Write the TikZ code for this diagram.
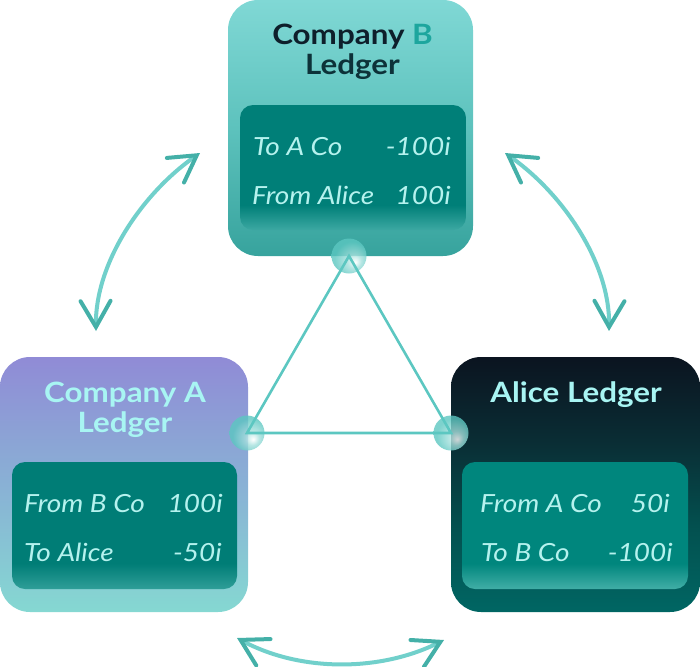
\documentclass[tikz,border=0pt]{standalone}
\usepackage{fontspec}
\setmainfont{Lato}
\newfontfamily\titlefont{Lato}[FakeStretch=1.12]
\newfontfamily\rowfont{Lato}[FakeStretch=1.12]
\usetikzlibrary{arrows.meta}
\definecolor{bTop}{HTML}{80D8D5}
\definecolor{bMid}{HTML}{5DC2BD}
\definecolor{bBot}{HTML}{37A39D}
\definecolor{aTop}{HTML}{908BD6}
\definecolor{aMid}{HTML}{89B1D5}
\definecolor{aBot}{HTML}{85D8D2}
\definecolor{cTop}{HTML}{0B1420}
\definecolor{cMid}{HTML}{0A2E35}
\definecolor{cMid2}{HTML}{03504F}
\definecolor{cBot}{HTML}{006663}
\definecolor{inA}{HTML}{007D76}
\definecolor{inAb}{HTML}{2F9E98}
\definecolor{inB}{HTML}{007F78}
\definecolor{inBb}{HTML}{3CA8A2}
\definecolor{inC}{HTML}{00867D}
\definecolor{inCb}{HTML}{41AEA6}
\definecolor{rowc}{HTML}{B5F2EE}
\definecolor{titleLight}{HTML}{A8F5F3}
\definecolor{titleDark}{HTML}{0E1F2B}
\definecolor{titleDark2}{HTML}{0D3239}
\definecolor{titleTeal}{HTML}{1DA69E}
\definecolor{knobc}{HTML}{5CC7C1}
\definecolor{triline}{HTML}{5CC7C1}
\definecolor{arrline}{HTML}{71D0CB}
\definecolor{arrhead}{HTML}{44B0A8}
\pgfdeclareverticalshading{shB}{100bp}{color(0bp)=(bBot); color(25bp)=(bBot); color(50bp)=(bMid); color(75bp)=(bTop); color(100bp)=(bTop)}
\pgfdeclareverticalshading{shA}{100bp}{color(0bp)=(aBot); color(25bp)=(aBot); color(50bp)=(aMid); color(75bp)=(aTop); color(100bp)=(aTop)}
\pgfdeclareverticalshading{shC}{100bp}{color(0bp)=(cBot); color(25bp)=(cBot); color(42bp)=(cMid2); color(58bp)=(cMid); color(75bp)=(cTop); color(100bp)=(cTop)}
\pgfdeclareverticalshading{shInA}{100bp}{color(0bp)=(inAb); color(25bp)=(inAb); color(35bp)=(inA); color(75bp)=(inA); color(100bp)=(inA)}
\pgfdeclareverticalshading{shInB}{100bp}{color(0bp)=(inBb); color(25bp)=(inBb); color(35bp)=(inB); color(75bp)=(inB); color(100bp)=(inB)}
\pgfdeclareverticalshading{shInC}{100bp}{color(0bp)=(inCb); color(25bp)=(inCb); color(35bp)=(inC); color(75bp)=(inC); color(100bp)=(inC)}
\pgfdeclareradialshading{knobsh}{\pgfpoint{9bp}{-9bp}}{color(0bp)=(white); color(10bp)=(knobc!55!white); color(25bp)=(knobc); color(50bp)=(knobc)}
\begin{document}
\begin{tikzpicture}[x=1pt,y=-1pt,
  outerbox/.style={rectangle, rounded corners=30pt, inner sep=0pt, draw=none, minimum width=#1},
  innerbox/.style={rectangle, rounded corners=13pt, inner sep=0pt, draw=none, minimum width=#1},
  titletxt/.style={inner sep=0pt, anchor=base, font=\titlefont\bfseries\fontsize{28}{30}\selectfont},
  rowtxt/.style={inner sep=0pt, text=rowc, font=\rowfont\itshape\fontsize{25}{28}\selectfont},
  knob/.style={circle, minimum size=35pt, inner sep=0pt, shading=knobsh, opacity=0.8},
  tri/.style={draw=triline, line width=2.6pt},
  arr/.style={draw=arrline, line width=4pt, line cap=round,
    {Straight Barb[length=26pt, width=30pt, color=arrhead, line cap=round]}-{Straight Barb[length=26pt, width=30pt, color=arrhead, line cap=round]}}
]
\useasboundingbox (0,0) rectangle (700,666);

% boxes
\node[outerbox=245pt, minimum height=256pt, shading=shB] (boxB) at (350.5,128) {};
\node[outerbox=248pt, minimum height=255pt, shading=shA] (boxA) at (124,484.5) {};
\node[outerbox=249pt, minimum height=255pt, shading=shC] (boxC) at (575.5,484.5) {};

\node[innerbox=226pt, minimum height=125pt, shading=shInB] (inB) at (353,167.5) {};
\node[innerbox=225pt, minimum height=127pt, shading=shInA] (inA) at (124.5,525.5) {};
\node[innerbox=226pt, minimum height=127pt, shading=shInC] (inC) at (575,525.5) {};

% titles
\node[titletxt] (tB1) at (352.5,45) {\textcolor{titleDark}{Company} \textcolor{titleTeal}{B}};
\node[titletxt, text=titleDark2] (tB2) at (352.5,75) {Ledger};
\node[titletxt, text=titleLight] (tA1) at (125,402) {Company A};
\node[titletxt, text=titleLight] (tA2) at (125,432) {Ledger};
\node[titletxt, text=titleLight] (tC1) at (576,402) {Alice Ledger};

% rows
\node[rowtxt, anchor=base west] (rB1l) at (253,155) {To A Co};
\node[rowtxt, anchor=base east] (rB1r) at (451,155) {-100i};
\node[rowtxt, anchor=base west] (rB2l) at (252,204) {From Alice};
\node[rowtxt, anchor=base east] (rB2r) at (451,204) {100i};

\node[rowtxt, anchor=base west] (rA1l) at (24,512) {From B Co};
\node[rowtxt, anchor=base east] (rA1r) at (223,512) {100i};
\node[rowtxt, anchor=base west] (rA2l) at (24,561) {To Alice};
\node[rowtxt, anchor=base east] (rA2r) at (222,561) {-50i};

\node[rowtxt, anchor=base west] (rC1l) at (480,512) {From A Co};
\node[rowtxt, anchor=base east] (rC1r) at (670,512) {50i};
\node[rowtxt, anchor=base west] (rC2l) at (481,561) {To B Co};
\node[rowtxt, anchor=base east] (rC2r) at (673,561) {-100i};

% knobs
\node[knob] (kB) at (349,256) {};
\node[knob] (kA) at (247,433) {};
\node[knob] (kC) at (451,433) {};

% triangle
\draw[tri, line join=miter] (kB.center) -- (kA.center) -- (kC.center) -- cycle;

% arrows
\coordinate (a1) at (96,331);
\coordinate (a2) at (200,153);
\coordinate (b1) at (505,153);
\coordinate (b2) at (609,331);
\coordinate (c1) at (237,638);
\coordinate (c2) at (444,640);
\draw[arr] (a1) .. controls (95,265) and (140,195) .. (a2);
\draw[arr] (b1) .. controls (565,195) and (610,265) .. (b2);
\draw[arr] (c1) .. controls (300,672) and (380,672) .. (c2);
\end{tikzpicture}
\end{document}
